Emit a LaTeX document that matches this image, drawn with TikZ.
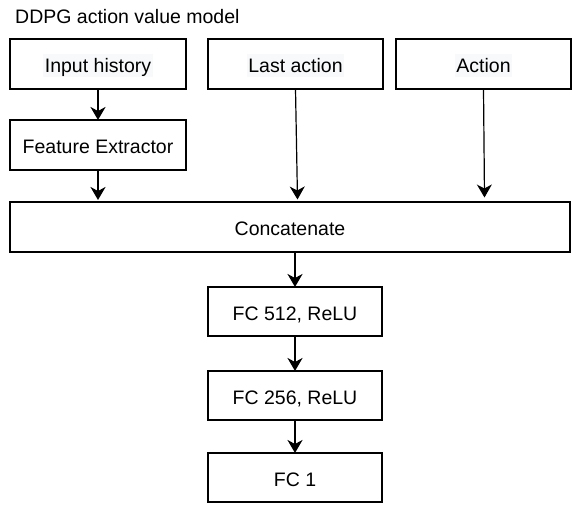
\documentclass[tikz,border=0pt]{standalone}
\usepackage{fontspec}
\setmainfont{Liberation Sans}
\usetikzlibrary{arrows.meta}
\definecolor{hlc}{HTML}{F8F9FA}
\newcommand\hlbox[1]{{\setlength\fboxsep{0pt}\colorbox{hlc}{\rule[-4.3pt]{0pt}{23pt}\hspace{1.5pt}#1\hspace{1.5pt}}}}
\tikzset{
  blk/.style={draw=black, line width=2.2pt, fill=white, inner sep=0pt, outer sep=0pt,
    minimum height=50pt, text height=18pt, text depth=1pt,
    font=\fontsize{19.5}{23}\selectfont},
  thickarr/.style={line width=2pt, -{Stealth[length=13pt,width=15pt,inset=4pt]}},
  thinarr/.style={line width=1.2pt, -{Stealth[length=13pt,width=15pt,inset=4pt]}},
}
\begin{document}
\begin{tikzpicture}[x=1pt,y=-1pt]
\useasboundingbox (0,0) rectangle (577,516);
\node[anchor=base west, inner sep=0pt, font=\fontsize{19.5}{23}\selectfont] (title) at (15,23.5) {DDPG action value model};
\node[blk, minimum width=176pt] (ih) at (98,64) {\hlbox{Input history}};
\node[blk, minimum width=175pt] (la) at (295.5,64) {\hlbox{Last action}};
\node[blk, minimum width=175pt] (act) at (483.5,64) {\hlbox{Action}};
\node[blk, minimum width=176pt] (fe) at (98,145) {Feature Extractor};
\node[blk, minimum width=560pt] (cc) at (290,227) {Concatenate};
\node[blk, minimum width=174pt, minimum height=49pt] (f512) at (295,311.5) {FC 512, ReLU};
\node[blk, minimum width=174pt, minimum height=49pt] (f256) at (295,395.5) {FC 256, ReLU};
\node[blk, minimum width=174pt, minimum height=49pt] (f1) at (295,477.5) {FC 1};
\coordinate (feIn) at (98,200);
\coordinate (laIn) at (297.5,199.5);
\coordinate (actIn) at (484.5,197.5);
\coordinate (ccOut) at (295,252);
\draw[thickarr] (ih.south) -- (fe.north);
\draw[thickarr] (fe.south) -- (feIn);
\draw[thinarr] (la.south) -- (laIn);
\draw[thinarr] (act.south) -- (actIn);
\draw[thickarr] (ccOut) -- (f512.north);
\draw[thickarr] (f512.south) -- (f256.north);
\draw[thickarr] (f256.south) -- (f1.north);
\end{tikzpicture}
\end{document}
